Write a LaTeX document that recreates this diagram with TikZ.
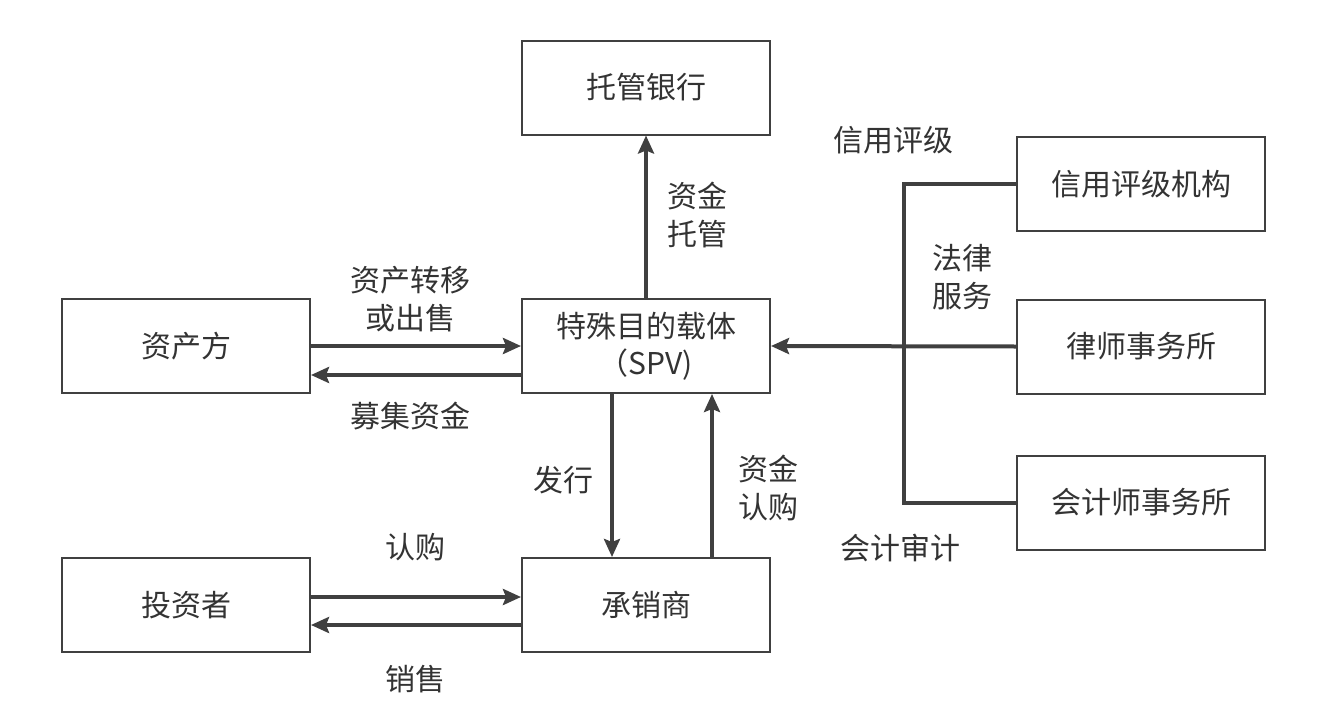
\documentclass[tikz,border=0pt]{standalone}
\usepackage{fontspec}
\setmainfont{Noto Sans CJK SC}
\usetikzlibrary{arrows.meta}
\definecolor{ln}{HTML}{404040}
\definecolor{tx}{HTML}{333333}
\begin{document}
\begin{tikzpicture}[x=1pt,y=-1pt,
  box/.style={draw=ln,line width=2pt,minimum width=248pt,minimum height=94pt,inner sep=0pt,
    font=\fontsize{30}{37}\selectfont,text=tx,align=center},
  lbl/.style={font=\fontsize{30}{38}\selectfont,text=tx,align=center,inner sep=0pt},
  arr/.style={draw=ln,line width=4pt,-{Stealth[length=18pt,width=16pt,inset=3pt]}},
  con/.style={draw=ln,line width=4pt}]
\useasboundingbox (0,0) rectangle (1325,712);
\node[box] (custody) at (646,87.5) {托管银行};
\node[box] (asset) at (186,346) {资产方};
\node[box] (spv) at (646,346) {特殊目的载体\\（SPV)};
\node[box] (investor) at (186,605) {投资者};
\node[box] (under) at (646,605) {承销商};
\node[box] (rating) at (1141,184) {信用评级机构};
\node[box] (law) at (1141,346.5) {律师事务所};
\node[box] (acct) at (1141,502.5) {会计师事务所};
\coordinate (jt) at (904,184);
\coordinate (jb) at (904,502.5);
% arrows
\draw[arr] (asset.east) -- (spv.west);
\draw[arr] (spv.west |- 0,375) -- (asset.east |- 0,375);
\draw[arr] (spv.north) -- (custody.south);
\draw[arr] (spv.south -| 612,0) -- (under.north -| 612,0);
\draw[arr] (under.north -| 712,0) -- (spv.south -| 712,0);
\draw[arr] (investor.east |- 0,597) -- (under.west |- 0,597);
\draw[arr] (under.west |- 0,625) -- (investor.east |- 0,625);
\draw[con] (rating.west) -- (jt) -- (jb) -- (acct.west);
\draw[arr] (law.west) -- (spv.east);
% labels
\node[lbl] (l1) at (410,299) {资产转移\\或出售};
\node[lbl] (l2) at (410,416) {募集资金};
\node[lbl] (l3) at (697,215) {资金\\托管};
\node[lbl] (l4) at (563,480) {发行};
\node[lbl] (l5) at (768,488) {资金\\认购};
\node[lbl] (l6) at (415,547) {认购};
\node[lbl] (l7) at (415,679) {销售};
\node[lbl] (l8) at (893,140) {信用评级};
\node[lbl] (l9) at (962,277) {法律\\服务};
\node[lbl] (l10) at (900,548) {会计审计};
\end{tikzpicture}
\end{document}
